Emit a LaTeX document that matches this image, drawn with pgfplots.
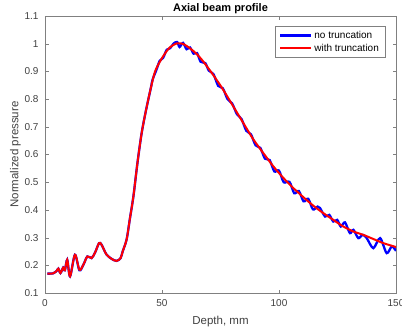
\documentclass[border=0pt]{standalone}
\usepackage{pgfplots}
\pgfplotsset{compat=1.18}
\usepackage{fontspec}
\setmainfont{Liberation Sans}
\begin{document}
\begin{tikzpicture}
\path[use as bounding box] (0,0) rectangle (402pt,335pt);
\begin{axis}[
  at={(45pt,42pt)}, anchor=south west,
  scale only axis, width=351pt, height=277pt,
  xmin=0, xmax=150, ymin=0.1, ymax=1.1,
  xtick={0,50,100,150},
  ytick={0.1,0.2,0.3,0.4,0.5,0.6,0.7,0.8,0.9,1,1.1},
  yticklabel style={/pgf/number format/fixed, /pgf/number format/precision=1, xshift=-3pt},
  xticklabel style={yshift=-3pt},
  /pgf/number format/assume math mode=true,
  ticklabel style={font=\fontsize{10}{12}\selectfont, text=black!75},
  tick align=inside, major tick length=3.5pt,
  axis line style={black!50}, tick style={black!50},
  every axis title shift=0pt,
  title={\textbf{Axial beam profile}},
  title style={at={(axis description cs:0.5,1.018)}, anchor=base, font=\fontsize{11}{13}\selectfont},
  xlabel={Depth, mm},
  xlabel style={at={(axis description cs:0.5,-0.112)}, anchor=base, font=\fontsize{11.5}{13}\selectfont, text=black!75},
  ylabel={Normalized pressure},
  ylabel style={at={(axis description cs:-0.076,0.5)}, anchor=base, font=\fontsize{11.5}{13}\selectfont, text=black!75},
  legend cell align=left,
  legend image code/.code={\draw[#1] (0pt,0pt) -- (31pt,0pt);},
  legend style={at={(0.969,0.964)}, anchor=north east, draw=black!50, line width=0.5pt,
    font=\fontsize{10}{12}\selectfont, inner xsep=4pt, inner ysep=3pt, row sep=0pt},
]
\addplot[blue, line width=2.3pt, smooth, tension=0.5] coordinates {
(1,0.170)(3.5,0.171)(5,0.180)(5.7,0.188)(6.6,0.172)(7.8,0.192)(8.5,0.182)(9.5,0.220)(10.7,0.160)(12.8,0.238)(14.7,0.182)(16.4,0.202)(18.1,0.232)(19.9,0.226)(21.4,0.246)(23.1,0.280)(24.2,0.274)(26.2,0.240)(28.5,0.223)(30.6,0.216)(32.3,0.226)(33.2,0.250)(34.9,0.294)(36.2,0.364)(37.8,0.450)(39.5,0.569)(41.3,0.677)(43.2,0.761)(45.2,0.839)
(46,0.871)(47.5,0.903)(49,0.938)(50.5,0.949)(52,0.978)(53.5,0.984)(55,1.001)(56.5,1.006)(57.5,0.988)(59,1.003)(60.5,0.980)(62,0.986)(63.5,0.964)(65,0.966)(66.5,0.935)(68.5,0.930)(70,0.903)(72,0.890)(74,0.848)(76,0.839)(78,0.800)(80,0.784)(82,0.746)(84,0.728)(86,0.686)(88,0.673)(90,0.633)(92,0.624)(94,0.585)(96,0.580)(98,0.539)(100,0.542)(102,0.500)(104.5,0.501)(106.5,0.460)(108.5,0.468)(110.5,0.431)(112.5,0.440)(114.5,0.402)(116.5,0.412)(117.5,0.407)(119.7,0.376)(121.5,0.382)(123.2,0.358)(124.9,0.364)(126.4,0.340)(128.2,0.355)(130.3,0.316)(131.8,0.328)(133.9,0.298)(135.8,0.310)(137.5,0.298)(140.3,0.262)(143.2,0.298)(146,0.244)(148.2,0.268)(150,0.252)
};
\addlegendentry{no truncation}
\addplot[red, line width=2pt, smooth, tension=0.5] coordinates {
(1,0.170)(3.5,0.171)(5,0.180)(5.7,0.188)(6.6,0.172)(7.8,0.192)(8.5,0.182)(9.5,0.220)(10.7,0.160)(12.8,0.238)(14.7,0.184)(16.4,0.202)(18.1,0.232)(19.9,0.226)(21.4,0.246)(23.1,0.280)(24.2,0.274)(26.2,0.240)(28.5,0.223)(30.6,0.216)(32.3,0.226)(33.2,0.250)(34.9,0.294)(36.2,0.364)(37.8,0.450)(39.5,0.569)(41.3,0.677)(43.2,0.761)(45.2,0.839)(47,0.899)(49.1,0.935)(51.3,0.965)(53.4,0.987)(56.3,1.001)(59.1,0.999)(62,0.983)(64.8,0.963)(67.7,0.935)(71.9,0.887)(76.2,0.833)(80.5,0.773)(84.8,0.713)(89,0.655)(93.3,0.605)(97.6,0.557)(101.9,0.515)(106.1,0.479)(110.4,0.446)(114.7,0.415)(119,0.388)(123.2,0.364)(127.5,0.340)(131.8,0.322)(136,0.310)(140.3,0.295)(144.6,0.280)(150,0.266)
};
\addlegendentry{with truncation}
\end{axis}
\end{tikzpicture}
\end{document}
